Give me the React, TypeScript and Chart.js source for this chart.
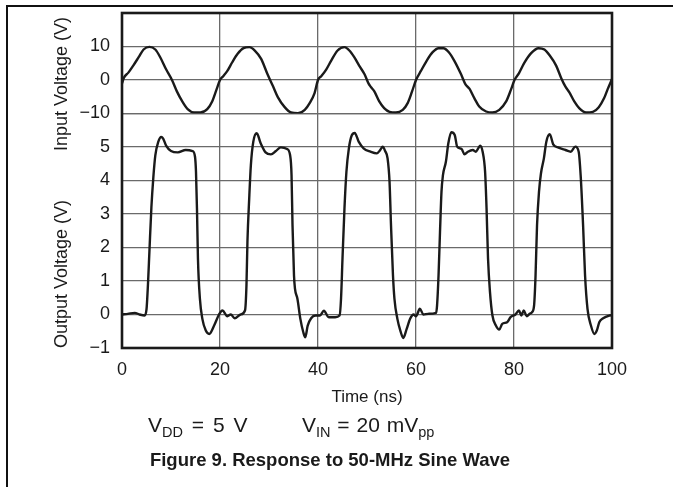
import React, { useEffect, useRef } from "react";
import { Chart, registerables } from "chart.js";

Chart.register(...registerables);

// ---- data ----
const timeTicks = [0, 20, 40, 60, 80, 100];

const inputTickValues = [20, 10, 0, -10];
const inputTickLabels = ["", "10", "0", "\u221210"];
const outputTickValues = [6, 5, 4, 3, 2, 1, 0, -1];
const outputTickLabels = ["", "5", "4", "3", "2", "1", "0", "\u22121"];

const inputTime = [
  0, 0.4, 1.3, 2.3, 3.4, 4.4, 5.6, 6.8, 7.8, 9.0, 10.2, 11.2, 12.3, 13.4, 14.7, 16.0, 17.4, 18.4, 19.3,
  20.0, 20.7, 21.5, 22.5, 23.6, 24.8, 26.0, 27.1, 28.4, 29.7, 30.8, 31.8, 33.2, 34.5, 35.9, 37.3, 38.3, 39.3,
  40.0, 40.7, 41.7, 42.7, 44.0, 45.4, 46.4, 47.4, 48.4, 49.5, 50.3, 50.8, 51.5, 52.5, 53.5, 54.6, 55.9, 57.3, 58.3, 59.2,
  60.0, 61.0, 62.2, 63.4, 64.6, 65.6, 66.7, 67.8, 69.2, 70.1, 70.9, 71.9, 72.9, 74.3, 75.6, 77.0, 78.4, 79.4,
  80.1, 81.0, 82.1, 83.5, 85.0, 86.2, 87.3, 88.6, 89.6, 90.5, 91.3, 92.3, 93.3, 94.7, 96.1, 97.3, 98.4, 99.1, 100,
];
const inputVolt = [
  -1.0, 0.7, 2.2, 4.3, 6.8, 9.1, 9.9, 9.1, 6.8, 3.2, 0, -3.4, -6.4, -8.7, -9.7, -9.7, -8.7, -6.4, -2.8,
  0, 1.2, 2.7, 5.3, 7.8, 9.5, 9.8, 8.8, 6.3, 1.7, -1.8, -5.1, -8.1, -9.7, -9.9, -8.9, -6.9, -3.9,
  0, 1.2, 3.2, 5.8, 8.8, 9.8, 8.8, 6.8, 4.3, 1.7, -1.0, -2.1, -3.4, -6.4, -8.4, -9.5, -9.7, -8.9, -6.9, -3.4,
  0, 2.7, 5.8, 8.3, 9.5, 9.5, 8.3, 5.8, 1.7, -1.3, -2.6, -5.4, -7.9, -9.4, -9.7, -8.9, -6.4, -2.8,
  0, 2.0, 5.1, 8.0, 9.5, 9.1, 7.3, 4.3, 0.7, -2.0, -3.7, -6.4, -8.4, -9.7, -9.5, -8.1, -5.4, -2.8, 0.3,
];

const outputTime = [
  0, 1.2, 2.6, 3.6, 4.6, 5.0, 5.3, 5.6, 6.0, 6.4, 6.8, 7.4, 8.0, 8.4, 9.0, 10.0, 11.4, 13.0, 14.4, 14.9, 15.1,
  15.3, 15.5, 15.9, 16.4, 17.1, 17.8, 18.8, 19.8, 20.5, 21.5, 22.2, 23.0, 24.2, 25.1,
  25.4, 25.6, 25.96, 26.3, 26.8, 27.5, 28.3, 29.3, 30.4, 31.4, 32.4, 33.7, 34.3, 34.6, 34.8, 35.1, 35.3, 35.8,
  36.4, 37.0, 37.4, 37.9, 38.6, 39.5, 40.4, 41.2, 42.2, 43.5, 44.4,
  44.7, 45.0, 45.4, 45.8, 46.3, 46.9, 47.5, 48.3, 49.3, 50.7, 52.0, 52.7, 53.2, 53.7, 54.2, 54.6, 54.9, 55.3, 55.6,
  56.2, 56.8, 57.4, 58.1, 58.8, 59.5, 60.0, 60.8, 61.5, 62.5, 64.1,
  64.3, 64.6, 64.9, 65.2, 65.5, 66.1, 66.6, 67.2, 67.9, 68.4, 69.3, 69.9, 70.6, 71.6, 72.2, 72.7, 73.1, 73.6,
  74.1, 74.4, 74.7, 75.1, 75.6, 76.3, 77.0, 77.6, 78.6, 79.3, 80.3, 81.0, 81.5, 82.0, 82.6, 83.2, 83.7,
  84.1, 84.4, 84.7, 85.1, 85.5, 86.1, 86.6, 87.3, 88.0, 89.1, 90.5, 91.6, 92.5, 93.2, 93.6, 94.1, 94.5, 95.0,
  95.7, 96.4, 96.9, 97.4, 98.2, 99.5, 100,
];
const outputVolt = [
  0, 0.02, 0.05, 0.0, -0.03, 0.15, 0.9, 1.9, 3.2, 4.1, 4.75, 5.15, 5.3, 5.25, 5.04, 4.88, 4.84, 4.91, 4.88, 4.71, 4.26,
  3.16, 1.67, 0.47, -0.13, -0.48, -0.58, -0.33, 0.0, 0.12, -0.05, 0.0, -0.11, 0.0, 0.12,
  0.87, 2.17, 3.46, 4.46, 5.16, 5.41, 5.11, 4.84, 4.78, 4.88, 4.99, 4.94, 4.76, 4.16, 2.66, 1.17, 0.77, 0.47,
  -0.13, -0.53, -0.68, -0.33, -0.11, -0.03, -0.03, 0.11, -0.08, -0.08, -0.03,
  0.47, 1.67, 3.16, 4.26, 4.96, 5.35, 5.42, 5.16, 4.96, 4.86, 4.81, 4.91, 5.01, 4.88, 4.66, 3.96, 2.66, 1.17, 0.47,
  -0.13, -0.48, -0.7, -0.43, -0.13, 0, -0.05, 0.17, 0.0, 0.02, 0.05,
  0.27, 1.17, 2.47, 3.66, 4.16, 4.56, 5.11, 5.44, 5.36, 5.01, 4.94, 4.78, 4.86, 4.91, 4.86, 4.96, 5.04, 4.86,
  4.26, 3.16, 1.67, 0.67, -0.03, -0.33, -0.45, -0.28, -0.23, -0.08, 0, 0.12, -0.03, 0.12, -0.05, 0.02, 0.07,
  0.27, 1.17, 2.66, 3.66, 4.21, 4.66, 5.16, 5.38, 5.08, 4.98, 4.91, 4.86, 5.01, 4.86, 4.16, 2.66, 1.17, 0.17,
  -0.33, -0.58, -0.48, -0.23, -0.11, -0.03, -0.02,
];

const xTitle = "Time (ns)";
const inputTitle = "Input Voltage (V)";
const outputTitle = "Output Voltage (V)";

const FONT = '"Liberation Sans", Arial, Helvetica, sans-serif';
const INK = "#1a1a1a";
const GRID = "#6a6a6a";

const decorPlugin = {
  id: "decor",
  afterDatasetsDraw(chart: any) {
    const { ctx, chartArea: a } = chart;
    ctx.save();
    ctx.strokeStyle = INK;
    ctx.lineWidth = 2.6;
    ctx.strokeRect(a.left, a.top, a.right - a.left, a.bottom - a.top);
    ctx.restore();
  },
  afterDraw(chart: any) {
    const { ctx } = chart;
    ctx.save();
    ctx.fillStyle = INK;
    ctx.font = `18px ${FONT}`;
    ctx.textAlign = "center";
    ctx.textBaseline = "middle";
    const drawV = (text: string, x: number, y: number) => {
      ctx.save();
      ctx.translate(x, y);
      ctx.rotate(-Math.PI / 2);
      ctx.fillText(text, 0, 0);
      ctx.restore();
    };
    drawV(inputTitle, 62, 84);
    drawV(outputTitle, 62, 274);
    ctx.restore();
  },
};

const fixW = (w: number) => (axis: any) => {
  axis.width = w;
  axis.paddingTop = 0;
  axis.paddingBottom = 0;
};

export default function App() {
  const ref = useRef<HTMLCanvasElement | null>(null);

  useEffect(() => {
    if (!ref.current) return;
    const inputData = inputTime.map((t, i) => ({ x: t, y: inputVolt[i] }));
    const outputData = outputTime.map((t, i) => ({ x: t, y: outputVolt[i] }));
    const tickFont = { family: FONT, size: 18 };
    const chart = new Chart(ref.current, {
      type: "line",
      data: {
        datasets: [
          {
            label: "Input",
            data: inputData,
            yAxisID: "yIn",
            borderColor: INK,
            borderWidth: 2.4,
            pointRadius: 0,
            cubicInterpolationMode: "monotone",
            fill: false,
          },
          {
            label: "Output",
            data: outputData,
            yAxisID: "yOut",
            borderColor: INK,
            borderWidth: 2.4,
            pointRadius: 0,
            cubicInterpolationMode: "monotone",
            fill: false,
          },
        ],
      },
      options: {
        responsive: false,
        animation: false,
        events: [],
        layout: { padding: { left: 0, top: 13, right: 61, bottom: 0 } },
        plugins: { legend: { display: false }, tooltip: { enabled: false } },
        scales: {
          x: {
            type: "linear",
            min: 0,
            max: 100,
            afterBuildTicks: (axis: any) => {
              axis.ticks = timeTicks.map((v) => ({ value: v }));
            },
            afterFit: (axis: any) => {
              axis.height = 139;
              axis.paddingLeft = 0;
              axis.paddingRight = 0;
            },
            ticks: { font: tickFont, color: INK, padding: 11, maxRotation: 0, autoSkip: false },
            grid: { color: GRID, lineWidth: 1.3, drawTicks: false },
            border: { display: false },
            title: {
              display: true,
              text: xTitle,
              font: { family: FONT, size: 17 },
              color: INK,
              padding: { top: 0, bottom: 79 },
            },
          },
          yOut: {
            type: "linear",
            position: "left",
            stack: "v",
            stackWeight: 7,
            min: -1,
            max: 6,
            afterBuildTicks: (axis: any) => {
              axis.ticks = outputTickValues.map((v) => ({ value: v }));
            },
            afterFit: fixW(122),
            ticks: {
              font: tickFont,
              color: INK,
              padding: 12,
              autoSkip: false,
              callback: (_v: any, i: number) => outputTickLabels[i],
            },
            grid: { color: GRID, lineWidth: 1.3, drawTicks: false },
            border: { display: false },
          },
          yIn: {
            type: "linear",
            position: "left",
            stack: "v",
            stackWeight: 3,
            min: -10,
            max: 20,
            afterBuildTicks: (axis: any) => {
              axis.ticks = inputTickValues.map((v) => ({ value: v }));
            },
            afterFit: fixW(122),
            ticks: {
              font: tickFont,
              color: INK,
              padding: 12,
              autoSkip: false,
              callback: (_v: any, i: number) => inputTickLabels[i],
            },
            grid: { color: GRID, lineWidth: 1.3, drawTicks: false },
            border: { display: false },
          },
        },
      },
      plugins: [decorPlugin],
    } as any);
    return () => chart.destroy();
  }, []);

  const textStyle: React.CSSProperties = {
    position: "absolute",
    fontFamily: FONT,
    fontSize: 21,
    color: INK,
    whiteSpace: "nowrap",
    lineHeight: "22px",
  };
  const subStyle: React.CSSProperties = { fontSize: 14.5, verticalAlign: "-5px", lineHeight: 0 };

  return (
    <div style={{ position: "absolute", left: 0, top: 0, width: 673, height: 487, background: "#fff", overflow: "hidden" }}>
      <div
        style={{
          position: "absolute",
          left: 6,
          top: 5,
          width: 680,
          height: 500,
          borderTop: "2px solid #111",
          borderLeft: "2px solid #111",
        }}
      />
      <canvas ref={ref} width={673} height={487} style={{ position: "absolute", left: 0, top: 0, width: 673, height: 487 }} />
      <div style={{ ...textStyle, left: 148, top: 414, wordSpacing: 3 }}>
        V<span style={subStyle}>DD</span> = 5 V
      </div>
      <div style={{ ...textStyle, left: 302, top: 414, wordSpacing: 1 }}>
        V<span style={subStyle}>IN</span> = 20 mV<span style={subStyle}>pp</span>
      </div>
      <div
        style={{
          ...textStyle,
          fontSize: 18.5,
          left: 0,
          width: 660,
          textAlign: "center",
          top: 449,
          fontWeight: "bold",
        }}
      >
        Figure 9. Response to 50-MHz Sine Wave
      </div>
    </div>
  );
}
